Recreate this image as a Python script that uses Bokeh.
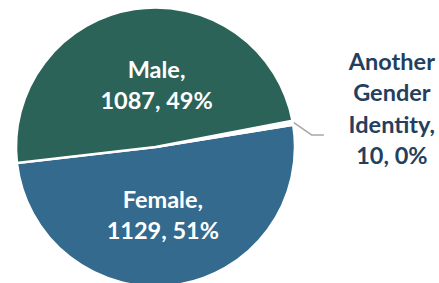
import math
from bokeh.plotting import figure
from bokeh.models import Range1d, ColumnDataSource
from bokeh.core.properties import value
from bokeh.embed import file_html
from bokeh.resources import INLINE

# ---- data ----
categories = ["Female", "Another Gender Identity", "Male"]
counts = [1129, 10, 1087]
percents = [51, 0, 49]

# ---- style ----
colors = ["#336A8E", "#FFFFFF", "#2C6358"]
label_colors = ["white", "#243F5E", "white"]
start_deg = -173.4
CX, CY, R = 155.0, -146.5, 139.5
FONT = value("Lato")
FS = "23.5px"
LH = 31.5
BASE_SHIFT = 0.0

W, H = 439, 283

total = float(sum(counts))
starts, ends = [], []
a = math.radians(start_deg)
for c in counts:
    starts.append(a)
    a += 2 * math.pi * c / total
    ends.append(a)

p = figure(width=W, height=H, x_range=Range1d(0, W), y_range=Range1d(-H, 0),
           output_backend="svg", toolbar_location=None, min_border=0)
p.axis.visible = False
p.grid.visible = False
p.outline_line_color = None
p.background_fill_color = "white"
p.border_fill_color = "white"

src = ColumnDataSource(dict(cat=categories, start=starts, end=ends, color=colors))
p.wedge(x=CX, y=CY, radius=R, start_angle="start", end_angle="end",
        fill_color="color", line_color="white", line_width=2.5, source=src)

# label placement parameters per slice: (radius factor, dx, outside)
place = {"Female": (0.488, -2, False), "Male": (0.453, 10.6, False),
         "Another Gender Identity": (None, 0, True)}

xs, ys, txts, cols = [], [], [], []
for cat, cnt, pct, s, e, lc in zip(categories, counts, percents, starts, ends, label_colors):
    mid = (s + e) / 2
    rf, dx, outside = place[cat]
    if outside:
        x0 = CX + (R + 1) * math.cos(mid)
        y0 = CY + (R + 1) * math.sin(mid)
        x1, y1 = x0 + 18, y0 - 12.5
        x2, y2 = x1 + 12, y1
        p.line([x0, x1, x2], [y0, y1, y2], line_color="#A6A6A6", line_width=1.5)
        ax, ay = x2 + 68, y2 + 27
        lines = cat.split(" ")
        lines[-1] = lines[-1] + ","
        lines.append(f"{cnt}, {pct}%")
    else:
        ax = CX + rf * R * math.cos(mid) + dx
        ay = CY + rf * R * math.sin(mid)
        lines = [f"{cat},", f"{cnt}, {pct}%"]
    n = len(lines)
    for i, t in enumerate(lines):
        xs.append(ax)
        ys.append(ay - (i - (n - 1) / 2) * LH + BASE_SHIFT)
        txts.append(t)
        cols.append(lc)

p.text(x=xs, y=ys, text=txts, text_color=cols, text_font=FONT, text_font_size=FS,
       text_font_style="bold", text_align="center", text_baseline="alphabetic")

open("out.html", "w").write(file_html(p, INLINE))
